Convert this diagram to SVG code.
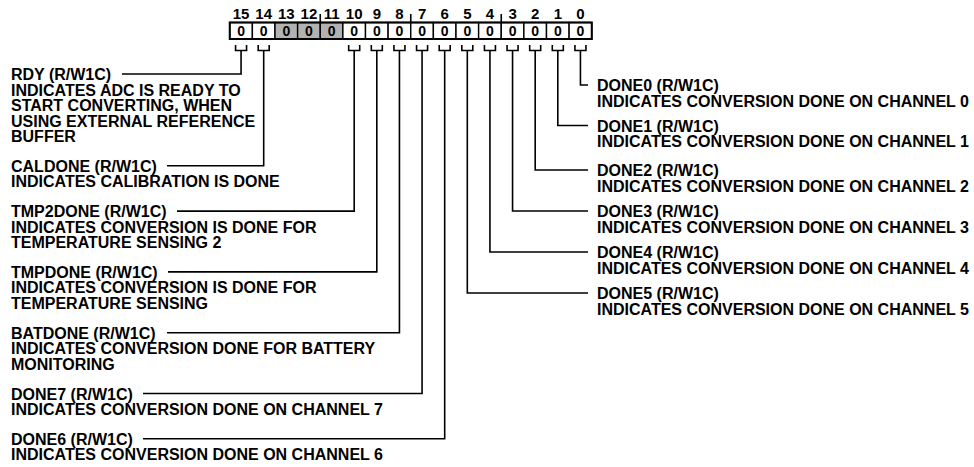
<svg xmlns="http://www.w3.org/2000/svg" width="974" height="467" viewBox="0 0 974 467">
<style>
  text { font-family: "Liberation Sans", Arial, sans-serif; font-weight: bold; fill: #000; }
  .lbl { font-size: 16px; }
  .bitn { font-size: 15px; text-anchor: middle; }
  .val { font-size: 14px; text-anchor: middle; }
  .cell { fill: #fff; stroke: #000; stroke-width: 1.4; }
  .res { fill: #b2b2b2; stroke: #000; stroke-width: 1.4; }
  .frame { fill: none; stroke: #000; stroke-width: 2; }
  .wire { fill: none; stroke: #000; stroke-width: 1.6; }
</style>
<rect width="974" height="467" fill="#fff"/>
<g id="register">
  <rect class="cell" x="229.75" y="22.5" width="22.625" height="16.5"/>
  <rect class="cell" x="252.375" y="22.5" width="22.625" height="16.5"/>
  <rect class="res" x="275" y="22.5" width="22.625" height="16.5"/>
  <rect class="res" x="297.625" y="22.5" width="22.625" height="16.5"/>
  <rect class="res" x="320.25" y="22.5" width="22.625" height="16.5"/>
  <rect class="cell" x="342.875" y="22.5" width="22.625" height="16.5"/>
  <rect class="cell" x="365.5" y="22.5" width="22.625" height="16.5"/>
  <rect class="cell" x="388.125" y="22.5" width="22.625" height="16.5"/>
  <rect class="cell" x="410.75" y="22.5" width="22.625" height="16.5"/>
  <rect class="cell" x="433.375" y="22.5" width="22.625" height="16.5"/>
  <rect class="cell" x="456" y="22.5" width="22.625" height="16.5"/>
  <rect class="cell" x="478.625" y="22.5" width="22.625" height="16.5"/>
  <rect class="cell" x="501.25" y="22.5" width="22.625" height="16.5"/>
  <rect class="cell" x="523.875" y="22.5" width="22.625" height="16.5"/>
  <rect class="cell" x="546.5" y="22.5" width="22.625" height="16.5"/>
  <rect class="cell" x="569.125" y="22.5" width="22.625" height="16.5"/>
  <rect class="frame" x="229.75" y="22.5" width="362" height="16.5"/>
  <path class="wire" d="M320.25 14V22.5M410.75 14V22.5M501.25 14V22.5"/>
  <text class="bitn" x="241.06" y="18.5">15</text>
  <text class="bitn" x="263.69" y="18.5">14</text>
  <text class="bitn" x="286.31" y="18.5">13</text>
  <text class="bitn" x="308.94" y="18.5">12</text>
  <text class="bitn" x="331.56" y="18.5">11</text>
  <text class="bitn" x="354.19" y="18.5">10</text>
  <text class="bitn" x="376.81" y="18.5">9</text>
  <text class="bitn" x="399.44" y="18.5">8</text>
  <text class="bitn" x="422.06" y="18.5">7</text>
  <text class="bitn" x="444.69" y="18.5">6</text>
  <text class="bitn" x="467.31" y="18.5">5</text>
  <text class="bitn" x="489.94" y="18.5">4</text>
  <text class="bitn" x="512.56" y="18.5">3</text>
  <text class="bitn" x="535.19" y="18.5">2</text>
  <text class="bitn" x="557.81" y="18.5">1</text>
  <text class="bitn" x="580.44" y="18.5">0</text>
  <text class="val" x="241.06" y="35.8">0</text>
  <text class="val" x="263.69" y="35.8">0</text>
  <text class="val" x="286.31" y="35.8">0</text>
  <text class="val" x="308.94" y="35.8">0</text>
  <text class="val" x="331.56" y="35.8">0</text>
  <text class="val" x="354.19" y="35.8">0</text>
  <text class="val" x="376.81" y="35.8">0</text>
  <text class="val" x="399.44" y="35.8">0</text>
  <text class="val" x="422.06" y="35.8">0</text>
  <text class="val" x="444.69" y="35.8">0</text>
  <text class="val" x="467.31" y="35.8">0</text>
  <text class="val" x="489.94" y="35.8">0</text>
  <text class="val" x="512.56" y="35.8">0</text>
  <text class="val" x="535.19" y="35.8">0</text>
  <text class="val" x="557.81" y="35.8">0</text>
  <text class="val" x="580.44" y="35.8">0</text>
</g>
<g id="connectors">
  <path class="wire" d="M235.56 45V50.5H246.56V45M241.06 50.5V74H122"/>
  <path class="wire" d="M258.19 45V50.5H269.19V45M263.69 50.5V165.8H167"/>
  <path class="wire" d="M348.69 45V50.5H359.69V45M354.19 50.5V211.1H177"/>
  <path class="wire" d="M371.31 45V50.5H382.31V45M376.81 50.5V271.9H168"/>
  <path class="wire" d="M393.94 45V50.5H404.94V45M399.44 50.5V332.7H167"/>
  <path class="wire" d="M416.56 45V50.5H427.56V45M422.06 50.5V393.5H143"/>
  <path class="wire" d="M439.19 45V50.5H450.19V45M444.69 50.5V438.8H143"/>
  <path class="wire" d="M461.81 45V50.5H472.81V45M467.31 50.5V293H588"/>
  <path class="wire" d="M484.44 45V50.5H495.44V45M489.94 50.5V252H588"/>
  <path class="wire" d="M507.06 45V50.5H518.06V45M512.56 50.5V211H588"/>
  <path class="wire" d="M529.69 45V50.5H540.69V45M535.19 50.5V170H588"/>
  <path class="wire" d="M552.31 45V50.5H563.31V45M557.81 50.5V125.5H588"/>
  <path class="wire" d="M574.94 45V50.5H585.94V45M580.44 50.5V85H588"/>
</g>
<g id="rdy">
  <text class="lbl" x="11" y="80">RDY (R/W1C)</text>
  <text class="lbl" x="11" y="95.5">INDICATES ADC IS READY TO</text>
  <text class="lbl" x="11" y="111">START CONVERTING, WHEN</text>
  <text class="lbl" x="11" y="126.5">USING EXTERNAL REFERENCE</text>
  <text class="lbl" x="11" y="142">BUFFER</text>
</g>
<g id="caldone">
  <text class="lbl" x="11" y="171.8">CALDONE (R/W1C)</text>
  <text class="lbl" x="11" y="187.3">INDICATES CALIBRATION IS DONE</text>
</g>
<g id="tmp2done">
  <text class="lbl" x="11" y="217.1">TMP2DONE (R/W1C)</text>
  <text class="lbl" x="11" y="232.6">INDICATES CONVERSION IS DONE FOR</text>
  <text class="lbl" x="11" y="248.1">TEMPERATURE SENSING 2</text>
</g>
<g id="tmpdone">
  <text class="lbl" x="11" y="277.9">TMPDONE (R/W1C)</text>
  <text class="lbl" x="11" y="293.4">INDICATES CONVERSION IS DONE FOR</text>
  <text class="lbl" x="11" y="308.9">TEMPERATURE SENSING</text>
</g>
<g id="batdone">
  <text class="lbl" x="11" y="338.7">BATDONE (R/W1C)</text>
  <text class="lbl" x="11" y="354.2">INDICATES CONVERSION DONE FOR BATTERY</text>
  <text class="lbl" x="11" y="369.7">MONITORING</text>
</g>
<g id="done7">
  <text class="lbl" x="11" y="399.5">DONE7 (R/W1C)</text>
  <text class="lbl" x="11" y="415">INDICATES CONVERSION DONE ON CHANNEL 7</text>
</g>
<g id="done6">
  <text class="lbl" x="11" y="444.8">DONE6 (R/W1C)</text>
  <text class="lbl" x="11" y="460.3">INDICATES CONVERSION DONE ON CHANNEL 6</text>
</g>
<g id="done0">
  <text class="lbl" x="597" y="91">DONE0 (R/W1C)</text>
  <text class="lbl" x="597" y="106.5">INDICATES CONVERSION DONE ON CHANNEL 0</text>
</g>
<g id="done1">
  <text class="lbl" x="597" y="131.5">DONE1 (R/W1C)</text>
  <text class="lbl" x="597" y="147">INDICATES CONVERSION DONE ON CHANNEL 1</text>
</g>
<g id="done2">
  <text class="lbl" x="597" y="176">DONE2 (R/W1C)</text>
  <text class="lbl" x="597" y="191.5">INDICATES CONVERSION DONE ON CHANNEL 2</text>
</g>
<g id="done3">
  <text class="lbl" x="597" y="217">DONE3 (R/W1C)</text>
  <text class="lbl" x="597" y="232.5">INDICATES CONVERSION DONE ON CHANNEL 3</text>
</g>
<g id="done4">
  <text class="lbl" x="597" y="258">DONE4 (R/W1C)</text>
  <text class="lbl" x="597" y="273.5">INDICATES CONVERSION DONE ON CHANNEL 4</text>
</g>
<g id="done5">
  <text class="lbl" x="597" y="299">DONE5 (R/W1C)</text>
  <text class="lbl" x="597" y="314.5">INDICATES CONVERSION DONE ON CHANNEL 5</text>
</g>
</svg>
